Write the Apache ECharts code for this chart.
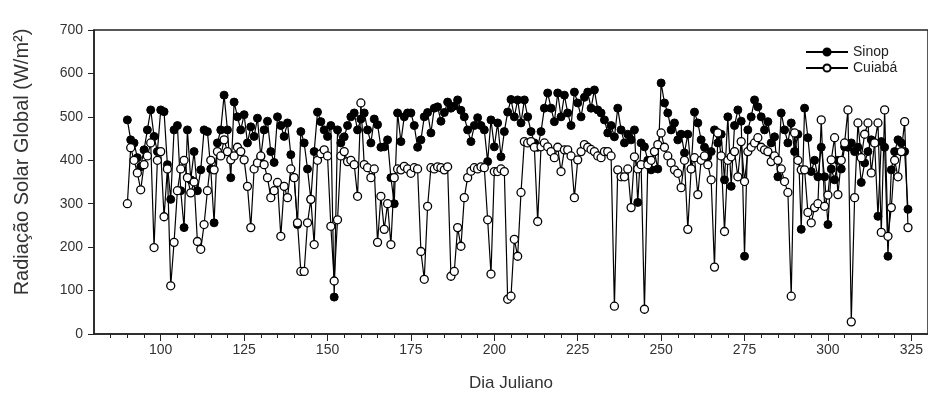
<!DOCTYPE html>
<html>
<head>
<meta charset="utf-8">
<script src="https://cdn.jsdelivr.net/npm/echarts@6/dist/echarts.min.js"></script>
<style>
  html, body { margin: 0; padding: 0; background: #fff; }
  #chart { width: 928px; height: 397px; }
</style>
</head>
<body>
<div id="chart"></div>
<script>
// dia juliano inicial da serie
const firstDay = 90;

// Radiação solar global diária (W/m²), dias 90..324
const sinop = [
  493, 447, 440, 406, 385, 424, 470, 516, 455, 420,
  516, 512, 390, 310, 470, 480, 330, 245, 470, 355,
  420, 330, 378, 470, 466, 380, 256, 440, 470, 550,
  470, 360, 534, 500, 470, 505, 440, 477, 455, 497,
  408, 470, 490, 420, 395, 500, 480, 455, 486, 413,
  360, 252, 466, 440, 380, 310, 420, 511, 489, 470,
  455, 480, 85, 470, 440, 454, 480, 500, 509, 470,
  495, 509, 470, 440, 495, 482, 430, 431, 447, 360,
  300, 509, 443, 500, 509, 509, 480, 430, 447, 500,
  510, 463, 520, 523, 490, 510, 534, 520, 525, 539,
  515, 500, 470, 443, 480, 498, 480, 470, 397, 493,
  431, 486, 408, 466, 511, 540, 500, 539, 486, 539,
  500, 466, 440, 430, 466, 520, 555, 520, 489, 555,
  500, 550, 509, 480, 557, 532, 500, 545, 557, 520,
  562, 516, 509, 493, 463, 480, 454, 520, 470, 440,
  460, 447, 470, 303, 440, 431, 400, 378, 420, 380,
  578, 532, 509, 470, 486, 447, 460, 417, 460, 380,
  511, 486, 447, 430, 408, 420, 470, 440, 460, 355,
  500, 340, 480, 516, 490, 179, 470, 500, 539, 523,
  500, 470, 489, 440, 454, 362, 509, 470, 440, 486,
  420, 460, 241, 520, 452, 374, 400, 362, 430, 362,
  252, 380, 355, 400, 380, 431, 430, 440, 420, 430,
  349, 394, 420, 447, 440, 271, 443, 430, 179, 378,
  420, 447, 440, 420, 287
];

const cuiaba = [
  300, 429, 400, 371, 332, 390, 410, 440, 199, 400,
  420, 270, 380, 111, 211, 330, 380, 400, 360, 325,
  350, 213, 195, 252, 330, 400, 378, 420, 410, 447,
  420, 401, 410, 430, 420, 401, 340, 245, 380, 394,
  410, 390, 360, 314, 330, 349, 225, 340, 314, 380,
  360, 256, 144, 144, 256, 310, 206, 400, 415, 424,
  410, 248, 122, 263, 410, 420, 397, 400, 390, 317,
  532, 390, 383, 360, 380, 211, 317, 241, 300, 206,
  360, 380, 378, 386, 380, 370, 383, 380, 190, 126,
  294, 383, 380, 385, 383, 378, 385, 133, 144, 245,
  202, 314, 360, 375, 383, 380, 385, 383, 263, 138,
  374, 374, 380, 374, 80, 87, 218, 179, 326, 443,
  440, 443, 430, 259, 431, 440, 431, 420, 406, 430,
  374, 424, 424, 410, 314, 401, 420, 436, 430, 425,
  420, 410, 406, 420, 420, 410, 64, 378, 362, 362,
  380, 291, 408, 380, 390, 57, 390, 400, 420, 436,
  463, 430, 410, 394, 378, 370, 337, 400, 241, 380,
  406, 321, 400, 410, 390, 355, 154, 463, 410, 236,
  400, 408, 420, 362, 443, 351, 420, 430, 440, 452,
  430, 424, 420, 397, 410, 400, 380, 351, 326, 87,
  463, 400, 378, 378, 280, 256, 291, 300, 493, 294,
  320, 401, 452, 321, 400, 440, 516, 28, 314, 486,
  406, 460, 486, 371, 440, 486, 234, 516, 225, 291,
  400, 362, 420, 489, 245
];

const xTicks = [100, 125, 150, 175, 200, 225, 250, 275, 300, 325];
const xMinorTicks = [85, 90, 95, 105, 110, 115, 120, 130, 135, 140, 145, 155, 160, 165, 170,
  180, 185, 190, 195, 205, 210, 215, 220, 230, 235, 240, 245, 255, 260, 265, 270,
  280, 285, 290, 295, 305, 310, 315, 320, 330];

const toPairs = (arr) => arr.map((v, i) => [firstDay + i, v]);

const font = "'Liberation Sans', Arial, sans-serif";
const narrow = "'Liberation Sans Narrow', 'Liberation Sans', Arial, sans-serif";
const chart = echarts.init(document.getElementById("chart"), null, { renderer: "canvas" });

chart.setOption({
  animation: false,
  backgroundColor: "#fff",
  textStyle: { fontFamily: font },
  grid: {
    left: 94,
    right: -1,
    top: 30,
    bottom: 62,
    show: true,
    borderColor: "#222",
    borderWidth: 1.5,
  },
  legend: {
    orient: "vertical",
    left: 800,
    top: 40,
    itemWidth: 42,
    itemHeight: 9,
    itemGap: 2,
    textStyle: { fontFamily: font, fontSize: 14, color: "#222" },
    data: ["Sinop", "Cuiabá"],
  },
  xAxis: [
    {
      type: "value",
      min: 80,
      max: 330,
      name: "Dia Juliano",
      nameLocation: "middle",
      nameGap: 41,
      nameTextStyle: { fontFamily: font, fontSize: 17, color: "#333" },
      axisLine: { show: true, lineStyle: { color: "#222", width: 1.5 } },
      axisTick: { show: true, length: 7, customValues: xTicks, lineStyle: { color: "#222" } },
      axisLabel: { customValues: xTicks, fontFamily: narrow, fontSize: 14, color: "#333", margin: 9 },
      splitLine: { show: false },
    },
    {
      // só para os traços menores do eixo x
      type: "value",
      position: "bottom",
      min: 80,
      max: 330,
      axisLine: { show: false },
      axisTick: { show: true, length: 4, customValues: xMinorTicks, lineStyle: { color: "#222" } },
      axisLabel: { show: false },
      splitLine: { show: false },
    },
  ],
  yAxis: {
    type: "value",
    min: 0,
    max: 700,
    interval: 100,
    name: "Radiação Solar Global (W/m²)",
    nameLocation: "middle",
    nameGap: 62,
    nameTextStyle: { fontFamily: font, fontSize: 20, color: "#333", padding: [0, 0, 0, 40] },
    axisLine: { show: true, lineStyle: { color: "#222", width: 1.5 } },
    axisTick: { show: true, length: 6, lineStyle: { color: "#222" } },
    axisLabel: { fontFamily: narrow, fontSize: 14, color: "#333", margin: 11 },
    splitLine: { show: false },
  },
  series: [
    {
      name: "Sinop",
      type: "line",
      data: toPairs(sinop),
      symbol: "circle",
      symbolSize: 8,
      showAllSymbol: true,
      lineStyle: { color: "#000", width: 1.2 },
      itemStyle: { color: "#000", borderColor: "#000", borderWidth: 1 },
      z: 2,
    },
    {
      name: "Cuiabá",
      type: "line",
      data: toPairs(cuiaba),
      symbol: "circle",
      symbolSize: 8,
      showAllSymbol: true,
      lineStyle: { color: "#000", width: 1.2 },
      itemStyle: { color: "#fff", borderColor: "#000", borderWidth: 1.3 },
      z: 3,
    },
  ],
});
</script>
</body>
</html>
